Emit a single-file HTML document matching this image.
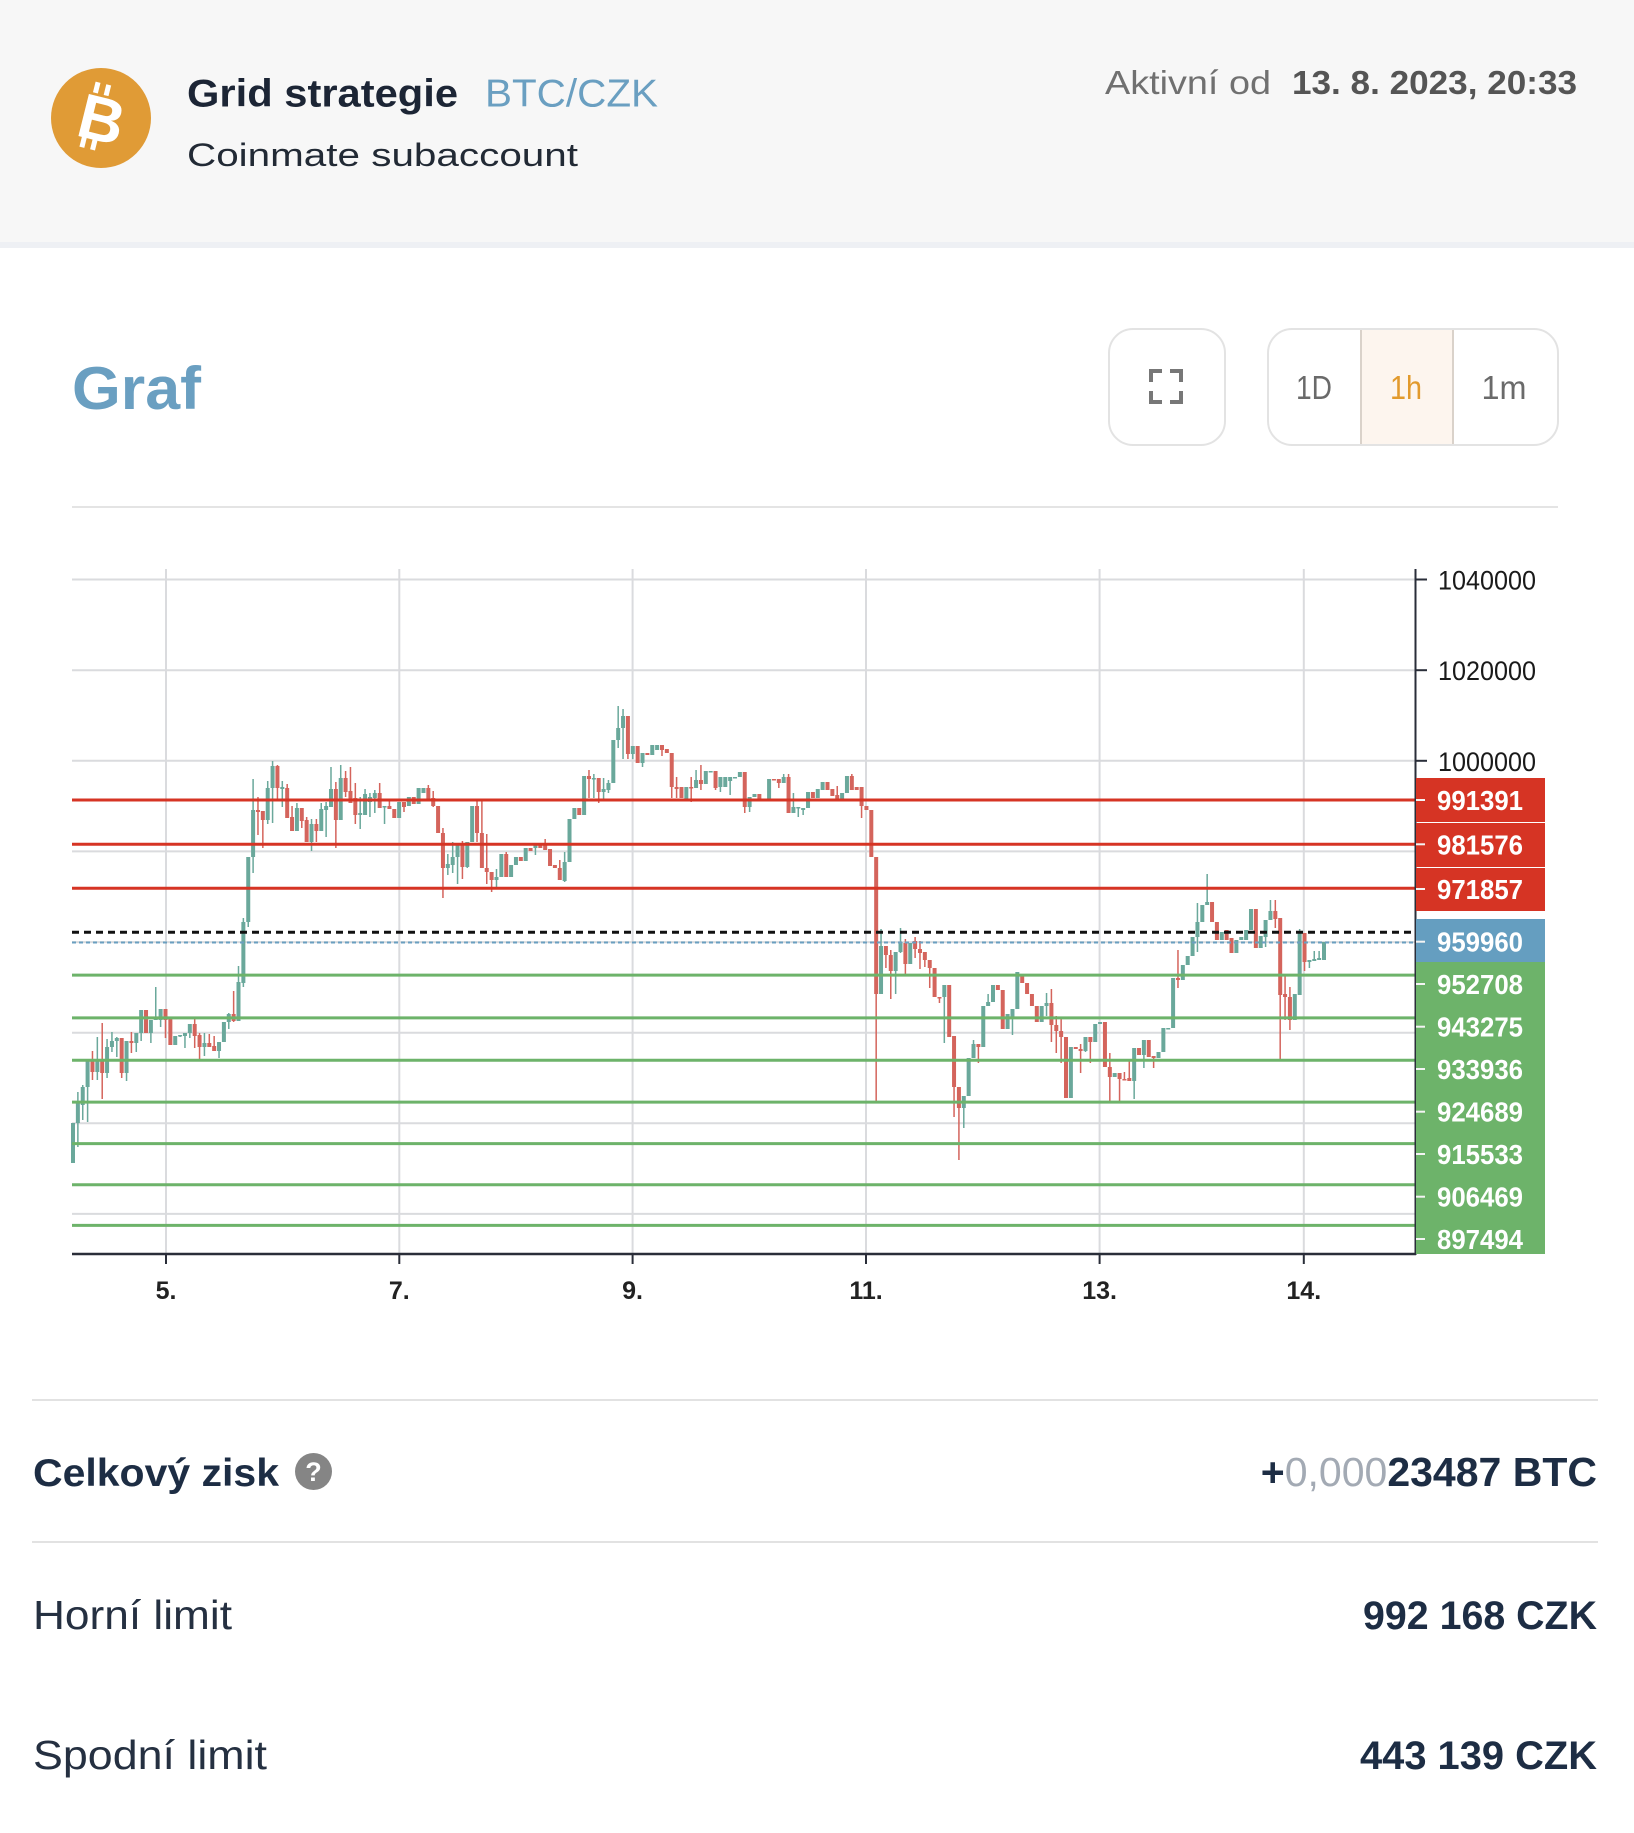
<!DOCTYPE html>
<html><head><meta charset="utf-8">
<style>
html,body{margin:0;padding:0;background:#fff;width:1634px;height:1833px;overflow:hidden}
svg{display:block}
text{font-family:"Liberation Sans",Arial,sans-serif}
</style></head>
<body>
<svg width="1634" height="1833" viewBox="0 0 1634 1833" xmlns="http://www.w3.org/2000/svg">
<rect x="0" y="0" width="1634" height="1833" fill="#ffffff"/>
<!-- header -->
<rect x="0" y="0" width="1634" height="242" fill="#f7f7f7"/>
<rect x="0" y="242" width="1634" height="6" fill="#eef0f4"/>
<circle cx="101" cy="118" r="50" fill="#e09b36"/>
<g transform="rotate(14 101 118)" fill="#ffffff">
<rect x="87" y="84" width="5" height="11"/><rect x="98" y="84" width="5" height="11"/>
<rect x="87" y="140" width="5" height="11"/><rect x="98" y="140" width="5" height="11"/>
<text x="102" y="141" font-size="63" font-weight="700" text-anchor="middle" fill="#ffffff">B</text>
</g>
<text x="187" y="106.5" font-size="39" font-weight="700" fill="#1c2535" textLength="271" lengthAdjust="spacingAndGlyphs">Grid strategie</text>
<text x="485" y="106.5" font-size="39" fill="#6a9fc1" textLength="173" lengthAdjust="spacingAndGlyphs">BTC/CZK</text>
<text x="187" y="166" font-size="32" fill="#222a35" textLength="391" lengthAdjust="spacingAndGlyphs">Coinmate subaccount</text>
<text x="1105" y="94" font-size="33" fill="#707070" textLength="166" lengthAdjust="spacingAndGlyphs">Aktivní od</text>
<text x="1292" y="94" font-size="33" font-weight="700" fill="#555555" textLength="285" lengthAdjust="spacingAndGlyphs">13. 8. 2023, 20:33</text>

<!-- Graf title + buttons -->
<text x="72" y="409" font-size="60" font-weight="700" fill="#6a9fc1" textLength="129" lengthAdjust="spacingAndGlyphs">Graf</text>
<rect x="1109" y="329" width="116" height="116" rx="24" fill="#fff" stroke="#e3e3e3" stroke-width="2"/>
<path d="M1151,382 V371 H1162 M1170,371 H1181 V382 M1181,391 V402 H1170 M1162,402 H1151 V391" fill="none" stroke="#777" stroke-width="4"/>
<rect x="1268" y="329" width="290" height="116" rx="24" fill="#fff" stroke="#e3e3e3" stroke-width="2"/>
<rect x="1361" y="330" width="92" height="114" fill="#fdf5ee"/>
<line x1="1361" y1="330" x2="1361" y2="444" stroke="#dad2ca" stroke-width="2"/>
<line x1="1453" y1="330" x2="1453" y2="444" stroke="#dad2ca" stroke-width="2"/>
<text x="1314" y="399" font-size="33" fill="#6a6a6a" text-anchor="middle" textLength="36" lengthAdjust="spacingAndGlyphs">1D</text>
<text x="1406" y="399" font-size="33" fill="#e29a2d" text-anchor="middle" textLength="32" lengthAdjust="spacingAndGlyphs">1h</text>
<text x="1504" y="399" font-size="33" fill="#6a6a6a" text-anchor="middle" textLength="45" lengthAdjust="spacingAndGlyphs">1m</text>
<rect x="72" y="506" width="1486" height="2" fill="#e4e4e4"/>

<!-- chart grid -->
<g stroke="#dadbde" stroke-width="2">
<line x1="72" y1="579.5" x2="1415" y2="579.5"/>
<line x1="72" y1="670.2" x2="1415" y2="670.2"/>
<line x1="72" y1="760.8" x2="1415" y2="760.8"/>
<line x1="72" y1="851.4" x2="1415" y2="851.4"/>
<line x1="72" y1="942.1" x2="1415" y2="942.1"/>
<line x1="72" y1="1032.7" x2="1415" y2="1032.7"/>
<line x1="72" y1="1123.3" x2="1415" y2="1123.3"/>
<line x1="72" y1="1213.9" x2="1415" y2="1213.9"/>
<line x1="166" y1="569" x2="166" y2="1254"/>
<line x1="399.3" y1="569" x2="399.3" y2="1254"/>
<line x1="632.6" y1="569" x2="632.6" y2="1254"/>
<line x1="866" y1="569" x2="866" y2="1254"/>
<line x1="1099.6" y1="569" x2="1099.6" y2="1254"/>
<line x1="1303.8" y1="569" x2="1303.8" y2="1254"/>
</g>
<g id="candles"></g>

<!-- price lines -->
<g stroke="#d63424" stroke-width="3">
<line x1="72" y1="800" x2="1415" y2="800"/>
<line x1="72" y1="844.3" x2="1415" y2="844.3"/>
<line x1="72" y1="888.3" x2="1415" y2="888.3"/>
</g>
<g stroke="#6db36a" stroke-width="3">
<line x1="72" y1="975.1" x2="1415" y2="975.1"/>
<line x1="72" y1="1017.9" x2="1415" y2="1017.9"/>
<line x1="72" y1="1060.2" x2="1415" y2="1060.2"/>
<line x1="72" y1="1102.1" x2="1415" y2="1102.1"/>
<line x1="72" y1="1143.6" x2="1415" y2="1143.6"/>
<line x1="72" y1="1184.7" x2="1415" y2="1184.7"/>
<line x1="72" y1="1225.4" x2="1415" y2="1225.4"/>
</g>
<line x1="72" y1="932.3" x2="1412" y2="932.3" stroke="#111" stroke-width="3" stroke-dasharray="7 5"/>
<line x1="72" y1="942.5" x2="1415" y2="942.5" stroke="#6a9fc0" stroke-width="2" stroke-dasharray="4 3"/>

<!-- axes -->
<line x1="1415.5" y1="569" x2="1415.5" y2="1255" stroke="#2a2e39" stroke-width="2"/>
<line x1="72" y1="1254" x2="1416" y2="1254" stroke="#2a2e39" stroke-width="2.5"/>
<g stroke="#2a2e39" stroke-width="2">
<line x1="1416" y1="579.5" x2="1427" y2="579.5"/>
<line x1="1416" y1="670.2" x2="1427" y2="670.2"/>
<line x1="1416" y1="760.8" x2="1427" y2="760.8"/>
<line x1="166" y1="1254" x2="166" y2="1264"/>
<line x1="399.3" y1="1254" x2="399.3" y2="1264"/>
<line x1="632.6" y1="1254" x2="632.6" y2="1264"/>
<line x1="866" y1="1254" x2="866" y2="1264"/>
<line x1="1099.6" y1="1254" x2="1099.6" y2="1264"/>
<line x1="1303.8" y1="1254" x2="1303.8" y2="1264"/>
</g>
<g font-size="27" fill="#1a1a1a">
<text x="1438" y="589.5" textLength="98" lengthAdjust="spacingAndGlyphs">1040000</text>
<text x="1438" y="680.2" textLength="98" lengthAdjust="spacingAndGlyphs">1020000</text>
<text x="1438" y="770.8" textLength="98" lengthAdjust="spacingAndGlyphs">1000000</text>
</g>
<g font-size="25" font-weight="700" fill="#222" text-anchor="middle">
<text x="166" y="1299">5.</text>
<text x="399.3" y="1299">7.</text>
<text x="632.6" y="1299">9.</text>
<text x="866" y="1299">11.</text>
<text x="1099.6" y="1299">13.</text>
<text x="1303.8" y="1299">14.</text>
</g>

<!-- price boxes -->
<rect x="1416" y="778" width="129" height="44" fill="#d63424"/>
<rect x="1416" y="823" width="129" height="44" fill="#d63424"/>
<rect x="1416" y="868" width="129" height="43" fill="#d63424"/>
<rect x="1416" y="919" width="129" height="43" fill="#659ec0"/>
<rect x="1416" y="962" width="129" height="292" fill="#6db36a"/>
<g fill="#f4f4f4">
<rect x="1416" y="799" width="9" height="2"/>
<rect x="1416" y="843.3" width="9" height="2"/>
<rect x="1416" y="888" width="9" height="2"/>
<rect x="1416" y="940.7" width="9" height="2"/>
<rect x="1416" y="983" width="9" height="2"/>
<rect x="1416" y="1025.7" width="9" height="2"/>
<rect x="1416" y="1068" width="9" height="2"/>
<rect x="1416" y="1110.7" width="9" height="2"/>
<rect x="1416" y="1153" width="9" height="2"/>
<rect x="1416" y="1195.7" width="9" height="2"/>
<rect x="1416" y="1238" width="9" height="2"/>
</g>
<g font-size="28" font-weight="700" fill="#ffffff">
<text x="1437" y="810" textLength="86" lengthAdjust="spacingAndGlyphs">991391</text>
<text x="1437" y="854.3" textLength="86" lengthAdjust="spacingAndGlyphs">981576</text>
<text x="1437" y="899" textLength="86" lengthAdjust="spacingAndGlyphs">971857</text>
<text x="1437" y="951.7" textLength="86" lengthAdjust="spacingAndGlyphs">959960</text>
<text x="1437" y="994" textLength="86" lengthAdjust="spacingAndGlyphs">952708</text>
<text x="1437" y="1036.7" textLength="86" lengthAdjust="spacingAndGlyphs">943275</text>
<text x="1437" y="1079" textLength="86" lengthAdjust="spacingAndGlyphs">933936</text>
<text x="1437" y="1121.7" textLength="86" lengthAdjust="spacingAndGlyphs">924689</text>
<text x="1437" y="1164" textLength="86" lengthAdjust="spacingAndGlyphs">915533</text>
<text x="1437" y="1206.7" textLength="86" lengthAdjust="spacingAndGlyphs">906469</text>
<text x="1437" y="1249" textLength="86" lengthAdjust="spacingAndGlyphs">897494</text>
</g>

<!-- bottom section -->
<rect x="32" y="1399" width="1566" height="2" fill="#e2e2e2"/>
<rect x="32" y="1541" width="1566" height="2" fill="#e2e2e2"/>
<text x="33" y="1486" font-size="39" font-weight="700" fill="#1d2d44" textLength="246" lengthAdjust="spacingAndGlyphs">Celkový zisk</text>
<circle cx="313.5" cy="1471.5" r="18.5" fill="#858585"/>
<text x="313.5" y="1481" font-size="27" font-weight="700" fill="#ffffff" text-anchor="middle">?</text>
<text x="1597" y="1486" font-size="41" font-weight="700" fill="#1d2d44" text-anchor="end"><tspan>+</tspan><tspan fill="#a3aab4" font-weight="400">0,000</tspan><tspan>23487 BTC</tspan></text>
<text x="33" y="1629" font-size="41" fill="#253041" textLength="199" lengthAdjust="spacingAndGlyphs">Horní limit</text>
<text x="1597" y="1629" font-size="40" font-weight="700" fill="#1d2d44" text-anchor="end" textLength="234" lengthAdjust="spacingAndGlyphs">992 168 CZK</text>
<text x="33" y="1769" font-size="41" fill="#253041" textLength="234" lengthAdjust="spacingAndGlyphs">Spodní limit</text>
<text x="1597" y="1769" font-size="40" font-weight="700" fill="#1d2d44" text-anchor="end" textLength="237" lengthAdjust="spacingAndGlyphs">443 139 CZK</text>
</svg>
<script>
(function(){
var d="g 1123 1163 1123 1163|g 1102 1123 1092 1147|g 1087 1105 1085 1120|g 1060 1087 1060 1122|r 1060 1072 1051 1080|g 1060 1072 1037 1080|r 1060 1073 1023 1099|g 1047 1073 1039 1078|g 1041 1047 1032 1052|g 1038 1041 1037 1057|r 1038 1073 1038 1078|g 1041 1073 1041 1081|r 1041 1043 1032 1053|g 1033 1043 1033 1052|g 1010 1033 1010 1041|r 1010 1033 1010 1033|g 1020 1033 1020 1043|g 1018 1020 987 1020|g 1009 1020 1009 1027|r 1009 1020 1009 1038|r 1019 1045 1019 1045|g 1036 1045 1036 1045|g 1035 1036 1035 1037|g 1033 1036 1033 1048|g 1024 1033 1024 1038|r 1024 1036 1017 1048|r 1035 1047 1033 1059|g 1043 1047 1033 1056|r 1043 1047 1034 1047|r 1046 1051 1036 1051|g 1042 1051 1042 1058|g 1022 1042 1022 1042|g 1014 1022 1013 1029|r 1014 1021 991 1022|g 982 1021 966 1021|g 922 983 918 987|g 857 922 857 927|g 810 857 779 873|r 810 812 797 835|r 811 820 811 848|g 788 820 781 824|g 766 788 761 823|r 766 788 765 800|g 787 789 781 807|r 788 818 784 818|r 817 831 806 831|g 808 831 803 831|r 808 821 808 828|r 820 842 817 842|g 824 842 819 851|r 824 831 819 842|g 809 831 803 831|g 806 810 802 837|g 789 807 767 807|r 789 820 782 848|g 778 820 765 820|r 778 792 771 797|r 791 803 767 803|r 798 815 783 824|g 813 815 797 829|g 794 815 789 815|g 797 802 793 817|g 793 798 790 813|r 793 808 783 808|g 806 807 806 824|r 806 809 801 809|r 809 818 809 818|g 802 818 802 818|r 802 807 802 812|g 797 806 797 806|r 797 804 797 804|g 788 804 788 804|g 788 793 788 793|r 788 800 785 800|r 798 806 791 807|r 806 833 806 833|r 833 868 828 898|g 864 868 854 875|g 857 865 842 873|g 843 857 843 884|r 843 867 841 879|g 842 867 842 868|g 806 842 806 842|r 806 833 801 842|r 833 868 801 868|r 868 872 834 884|r 872 880 872 892|g 877 880 869 889|g 854 877 854 877|r 854 877 852 877|g 865 877 865 877|g 857 865 857 865|r 857 861 857 861|g 848 861 848 861|r 848 851 848 851|g 844 848 844 855|r 844 848 844 848|r 845 850 839 850|r 849 866 849 866|r 865 868 865 868|r 868 880 860 880|g 862 881 852 882|g 819 862 819 862|g 808 819 808 819|r 808 815 808 815|g 776 815 776 815|r 776 779 770 798|g 778 779 774 798|r 778 792 778 803|g 789 792 778 800|g 783 790 780 793|g 740 783 740 783|g 728 740 706 748|g 716 728 709 759|r 716 754 716 759|g 746 754 746 759|r 746 763 746 763|g 753 763 753 767|r 753 755 753 755|g 745 755 745 755|g 745 750 745 750|r 745 750 745 756|r 749 753 749 753|r 753 787 753 798|r 787 789 777 798|r 787 798 787 798|g 787 800 787 800|r 787 788 777 802|g 780 788 770 788|r 780 784 765 790|g 771 784 771 784|g 771 772 771 772|r 771 788 771 790|g 777 787 777 792|g 777 787 777 787|g 777 781 777 795|g 777 778 777 778|g 772 777 772 777|r 772 807 772 813|g 797 807 797 812|g 794 797 794 797|r 794 801 794 801|r 799 801 799 801|g 779 800 779 800|r 779 780 779 780|r 779 783 779 788|g 777 783 774 783|r 777 813 774 813|g 807 813 793 813|g 807 808 807 817|g 808 810 808 815|g 792 808 792 808|r 792 798 792 798|g 789 798 789 798|g 782 790 782 790|r 782 790 782 790|r 789 796 789 796|r 795 801 786 801|g 793 801 793 801|g 776 793 776 793|r 776 790 774 790|r 787 790 787 790|r 787 806 787 818|r 806 810 806 810|r 810 857 810 857|r 857 994 857 1103|g 946 994 929 994|r 946 955 946 968|r 955 971 950 999|g 952 971 952 994|g 942 952 928 953|r 943 964 939 976|g 943 964 943 964|r 941 949 937 958|r 949 953 941 969|r 952 960 952 967|r 960 968 960 988|r 968 997 968 997|r 997 998 997 1003|g 985 997 985 1043|r 985 1037 985 1037|r 1036 1087 1036 1117|r 1087 1108 1087 1160|g 1096 1108 1096 1128|g 1058 1096 1058 1096|g 1044 1058 1040 1058|r 1044 1047 1044 1063|g 1006 1047 1006 1047|g 1002 1006 994 1006|g 985 1002 985 1002|r 985 990 985 990|r 990 1029 990 1029|g 1014 1029 1014 1029|g 1009 1018 1009 1035|g 972 1009 972 1009|r 976 983 976 983|r 983 994 983 994|r 994 1006 994 1006|r 1006 1022 1006 1022|g 1006 1022 1006 1022|g 1003 1006 993 1016|r 1003 1025 989 1042|r 1025 1031 1016 1053|r 1031 1037 1018 1063|r 1037 1098 1037 1098|g 1047 1098 1047 1098|r 1047 1049 1047 1049|r 1049 1051 1044 1073|g 1037 1051 1037 1052|r 1037 1042 1037 1063|g 1024 1042 1024 1042|g 1022 1024 1022 1024|r 1022 1067 1022 1067|r 1067 1077 1053 1103|g 1073 1077 1073 1077|r 1073 1079 1073 1101|r 1079 1080 1072 1080|r 1078 1081 1059 1081|g 1048 1081 1048 1099|r 1048 1055 1048 1055|g 1040 1055 1040 1068|r 1040 1057 1040 1057|r 1056 1058 1056 1068|g 1052 1058 1052 1058|g 1028 1052 1028 1052|g 1028 1029 1028 1029|g 978 1028 978 1028|r 978 980 950 988|g 965 980 965 980|g 956 965 956 965|g 937 956 937 956|g 922 937 903 952|g 905 922 905 922|g 902 905 874 905|r 902 922 902 922|r 922 940 922 940|g 932 940 932 940|r 930 940 930 940|r 938 953 938 953|g 940 953 940 953|g 937 940 937 940|g 930 940 930 940|g 909 930 909 930|r 909 948 909 948|g 936 948 936 948|g 920 937 920 947|g 911 920 900 920|r 911 919 900 928|r 918 995 918 1059|r 994 997 975 1020|r 997 1020 987 1030|g 994 1020 994 1020|g 933 995 929 995|r 933 962 933 971|g 960 962 960 968|g 959 961 951 961|g 958 960 951 960|g 942 960 942 960";
var parts=d.split('|'),h='';
for(var i=0;i<parts.length;i++){
 var p=parts[i].split(' ');
 var x=73+i*4.8677;
 var col=p[0]=='g'?'#6aa89b':'#d4645c';
 var t=+p[1],b=+p[2],wt=+p[3],wb=+p[4];
 if(b-t<1.5)b=t+1.5;
 if(wt>t)wt=t; if(wb<b)wb=b;
 h+='<rect x="'+(x-0.75).toFixed(2)+'" y="'+wt+'" width="1.5" height="'+(wb-wt)+'" fill="'+col+'"/>';
 h+='<rect x="'+(x-2).toFixed(2)+'" y="'+t+'" width="4" height="'+(b-t)+'" fill="'+col+'"/>';
}
document.getElementById('candles').innerHTML=h;
})();
</script>
</body></html>
